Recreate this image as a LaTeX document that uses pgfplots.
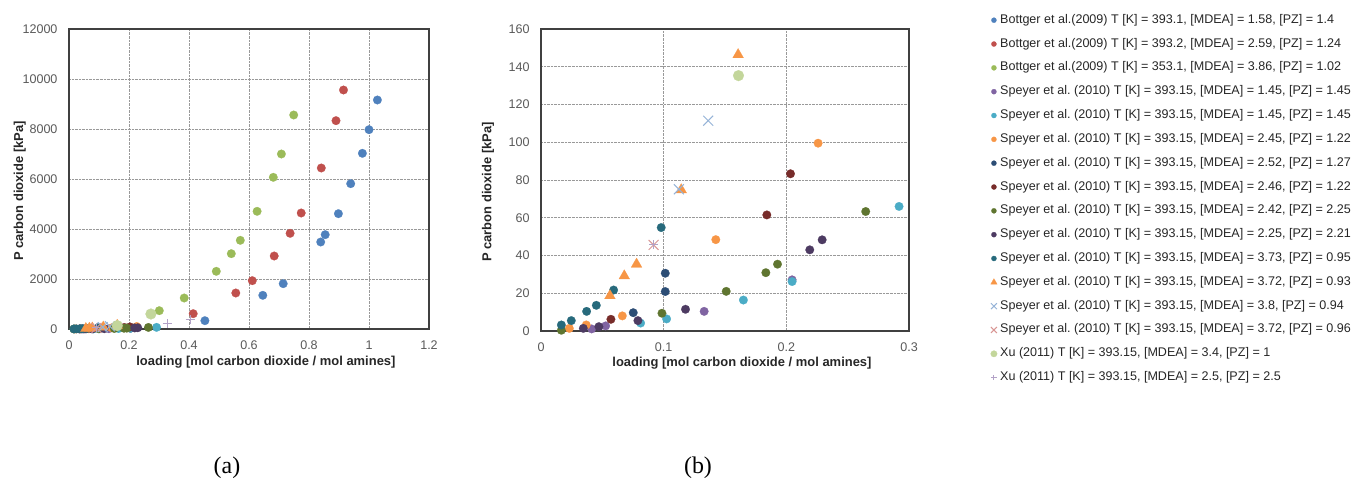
\documentclass[border=0pt]{standalone}
\usepackage{fontspec}
\setmainfont{Liberation Sans}
\newfontfamily\capfont{Liberation Serif}
\usepackage{pgfplots}
\usepackage{pgfplotstable}
\pgfplotsset{compat=1.18}
\frenchspacing

% Office-style series colours
\definecolor{cBlue}{HTML}{4F81BD}
\definecolor{cRed}{HTML}{C0504D}
\definecolor{cGreen}{HTML}{9BBB59}
\definecolor{cPurple}{HTML}{8064A2}
\definecolor{cAqua}{HTML}{4BACC6}
\definecolor{cOrange}{HTML}{F79646}
\definecolor{cDBlue}{HTML}{2C4D75}
\definecolor{cDRed}{HTML}{772C2A}
\definecolor{cDGreen}{HTML}{5F7530}
\definecolor{cDPurple}{HTML}{4D3B62}
\definecolor{cDAqua}{HTML}{276A7C}
\definecolor{cLBlue}{HTML}{95B3D7}
\definecolor{cLRed}{HTML}{D99694}
\definecolor{cLGreen}{HTML}{C3D69B}
\definecolor{cLPurple}{HTML}{B3A2C7}
\definecolor{tickgray}{HTML}{595959}

% loading [mol CO2 / mol amines]   P CO2 [kPa]
\pgfplotstableread{
x y
1.028 9160
1.000 7973
0.978 7027
0.939 5813
0.898 4613
0.854 3773
0.839 3480
0.714 1813
0.646 1347
0.453 333
}\tBottA
\pgfplotstableread{
x y
0.915 9560
0.890 8333
0.841 6440
0.774 4640
0.737 3827
0.684 2920
0.611 1933
0.556 1440
0.414 613
}\tBottB
\pgfplotstableread{
x y
0.749 8560
0.708 7000
0.681 6067
0.627 4707
0.571 3547
0.541 3013
0.491 2307
0.384 1240
0.301 733
}\tBottC
\pgfplotstableread{
x y
0.0413 1.1
0.0527 2.7
0.133 10.4
0.2047 27.1
}\tSpA
\pgfplotstableread{
x y
0.0812 4.2
0.1024 6.4
0.165 16.4
0.2047 26.2
0.2919 66.0
}\tSpB
\pgfplotstableread{
x y
0.0231 1.4
0.0369 3.2
0.0663 8.0
0.1425 48.4
0.2259 99.5
}\tSpC
\pgfplotstableread{
x y
0.0752 9.7
0.1013 20.9
0.1013 30.6
}\tSpD
\pgfplotstableread{
x y
0.057 6.2
0.1841 61.5
0.2034 83.3
}\tSpE
\pgfplotstableread{
x y
0.0166 0.4
0.0986 9.4
0.151 21.0
0.1833 30.9
0.1928 35.4
0.2647 63.3
}\tSpF
\pgfplotstableread{
x y
0.0345 1.4
0.0472 2.3
0.079 5.5
0.1178 11.5
0.2191 43.0
0.2292 48.3
}\tSpG
\pgfplotstableread{
x y
0.0166 3.2
0.0247 5.5
0.0372 10.4
0.0451 13.6
0.0592 21.7
0.098 54.8
}\tSpH
\pgfplotstableread{
x y
0.0562 18.7
0.0679 29.2
0.0779 35.4
0.1143 74.8
0.1607 146.4
}\tSpI
\pgfplotstableread{
x y
0.1124 75.1
0.1363 111.4
}\tSpJ
\pgfplotstableread{
x y
0.0918 45.6
}\tSpK
\pgfplotstableread{
x y
0.161 135.3
0.273 600
}\tXuA
\pgfplotstableread{
x y
0.0918 45.6
0.327 213
0.404 373
}\tXuB

\newcommand{\labelfont}{\fontsize{13}{15}\selectfont\bfseries}
\newcommand{\tickfont}{\fontsize{12.6}{14}\selectfont}

\pgfplotsset{
  dot/.style={only marks, mark=*, mark size=4.3bp, color=#1,
    mark options={fill=#1, draw=#1, line width=0.2bp}},
  bigdot/.style={only marks, mark=*, mark size=5.4bp, color=#1,
    mark options={fill=#1, draw=#1, line width=0.2bp}},
  tri/.style={only marks, mark=triangle*, mark size=6.2bp, color=#1,
    mark options={fill=#1, draw=#1, line width=0.2bp}},
  cross/.style={only marks, mark=x, mark size=7bp, color=#1,
    mark options={line width=1bp}},
  plusm/.style={only marks, mark=+, mark size=4.5bp, color=#1,
    mark options={line width=1bp}},
  excel/.style={
    scale only axis,
    axis line style={black!75, line width=1.2bp},
    grid=major,
    major grid style={densely dotted, black!40, line width=0.6bp},
    major tick length=0pt,
    tick label style={font=\tickfont, text=tickgray},
    /pgf/number format/assume math mode=true,
    /pgf/number format/1000 sep={},
    scaled ticks=false,
    xticklabel style={yshift=-8bp},
    yticklabel style={xshift=-8bp},
    clip mode=individual,
  },
}

\newcommand{\speyerseries}{%
  \addplot[dot=cPurple]   table {\tSpA};
  \addplot[dot=cAqua]     table {\tSpB};
  \addplot[dot=cOrange]   table {\tSpC};
  \addplot[dot=cDBlue]    table {\tSpD};
  \addplot[dot=cDRed]     table {\tSpE};
  \addplot[dot=cDGreen]   table {\tSpF};
  \addplot[dot=cDPurple]  table {\tSpG};
  \addplot[dot=cDAqua]    table {\tSpH};
  \addplot[tri=cOrange]   table {\tSpI};
  \addplot[cross=cLBlue]  table {\tSpJ};
  \addplot[cross=cLRed]   table {\tSpK};
  \addplot[bigdot=cLGreen] table {\tXuA};
  \addplot[plusm=cLPurple] table {\tXuB};
}

\begin{document}
\begin{tikzpicture}
\useasboundingbox (0bp,0bp) rectangle (1357bp,488bp);

% (a) full loading range
\begin{axis}[excel,
  at={(69bp,159bp)}, anchor=south west,
  width=360bp, height=300bp,
  xmin=0, xmax=1.2, ymin=0, ymax=12000,
  xtick={0,0.2,0.4,0.6,0.8,1,1.2},
  ytick={0,2000,4000,6000,8000,10000,12000},
  xlabel={loading [mol carbon dioxide / mol amines]},
  ylabel={P carbon dioxide [kPa]},
  every axis x label/.style={at={(axis description cs:0.547,-0.112)}, anchor=center,
    font=\labelfont, text=black!85},
  every axis y label/.style={at={(axis description cs:-0.137,0.46)}, rotate=90, anchor=center,
    font=\labelfont, text=black!85},
  legend style={
    at={(axis description cs:2.5597,1.050)}, anchor=north west,
    draw=none, fill=none, inner xsep=0pt, inner ysep=0pt,
    font=\tickfont, text=black!85,
    row sep=11.83bp,
    nodes={inner xsep=3bp, inner ysep=0bp, text height=9bp, text depth=3bp},
  },
  legend cell align=left,
  legend image code/.code={\draw[#1] plot coordinates {(0bp,0bp)};},
  legend image post style={every mark/.append style={scale=0.6}},
  legend entries={
    {Bottger et al.(2009) T [K] = 393.1, [MDEA] = 1.58, [PZ] = 1.4},
    {Bottger et al.(2009) T [K] = 393.2, [MDEA] = 2.59, [PZ] = 1.24},
    {Bottger et al.(2009) T [K] = 353.1, [MDEA] = 3.86, [PZ] = 1.02},
    {Speyer et al. (2010) T [K] = 393.15, [MDEA] = 1.45, [PZ] = 1.45},
    {Speyer et al. (2010) T [K] = 393.15, [MDEA] = 1.45, [PZ] = 1.45},
    {Speyer et al. (2010) T [K] = 393.15, [MDEA] = 2.45, [PZ] = 1.22},
    {Speyer et al. (2010) T [K] = 393.15, [MDEA] = 2.52, [PZ] = 1.27},
    {Speyer et al. (2010) T [K] = 393.15, [MDEA] = 2.46, [PZ] = 1.22},
    {Speyer et al. (2010) T [K] = 393.15, [MDEA] = 2.42, [PZ] = 2.25},
    {Speyer et al. (2010) T [K] = 393.15, [MDEA] = 2.25, [PZ] = 2.21},
    {Speyer et al. (2010) T [K] = 393.15, [MDEA] = 3.73, [PZ] = 0.95},
    {Speyer et al. (2010) T [K] = 393.15, [MDEA] = 3.72, [PZ] = 0.93},
    {Speyer et al. (2010) T [K] = 393.15, [MDEA] = 3.8, [PZ] = 0.94},
    {Speyer et al. (2010) T [K] = 393.15, [MDEA] = 3.72, [PZ] = 0.96},
    {Xu (2011) T [K] = 393.15, [MDEA] = 3.4, [PZ] = 1},
    {Xu (2011) T [K] = 393.15, [MDEA] = 2.5, [PZ] = 2.5},
  },
]
  \addplot[dot=cBlue]  table {\tBottA};
  \addplot[dot=cRed]   table {\tBottB};
  \addplot[dot=cGreen] table {\tBottC};
  \speyerseries
\end{axis}

% (b) low-loading detail
\begin{axis}[excel,
  at={(541bp,157bp)}, anchor=south west,
  width=368bp, height=302bp,
  xmin=0, xmax=0.3, ymin=0, ymax=160,
  xtick={0,0.1,0.2,0.3},
  ytick={0,20,40,60,80,100,120,140,160},
  restrict x to domain=0:0.3,
  restrict y to domain=0:160,
  xlabel={loading [mol carbon dioxide / mol amines]},
  ylabel={P carbon dioxide [kPa]},
  every axis x label/.style={at={(axis description cs:0.546,-0.107)}, anchor=center,
    font=\labelfont, text=black!85},
  every axis y label/.style={at={(axis description cs:-0.144,0.46)}, rotate=90, anchor=center,
    font=\labelfont, text=black!85},
]
  \speyerseries
\end{axis}

\node[font=\capfont\fontsize{24}{28}\selectfont, anchor=center] at (227bp,20bp) {(a)};
\node[font=\capfont\fontsize{24}{28}\selectfont, anchor=center] at (698bp,20bp) {(b)};
\end{tikzpicture}
\end{document}
